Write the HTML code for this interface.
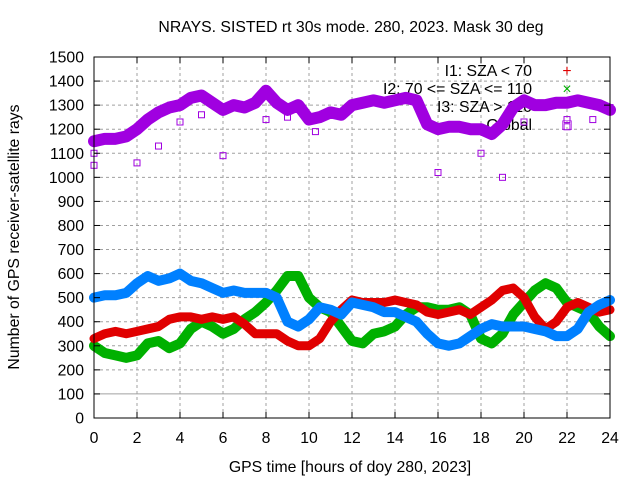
<!DOCTYPE html>
<html><head><meta charset="utf-8"><style>
body{margin:0;background:#fff}
svg text{font-family:"Liberation Sans",sans-serif;font-size:15.8px;fill:#000}
</style></head><body>
<svg id="c" width="640" height="480">
<text x="351" y="32" text-anchor="middle">NRAYS. SISTED rt 30s mode. 280, 2023. Mask 30 deg</text>
<text x="350" y="472" text-anchor="middle">GPS time [hours of doy 280, 2023]</text>
<text transform="translate(19,237) rotate(-90)" text-anchor="middle">Number of GPS receiver-satellite rays</text>
<g id="grid"></g><g id="legend"></g><g id="series"></g><g id="axes"></g>
</svg>
<script>
const hours=[0,0.5,1,1.5,2,2.5,3,3.5,4,4.5,5,5.5,6,6.5,7,7.5,8,8.5,9,9.5,10,10.5,11,11.5,12,12.5,13,13.5,14,14.5,15,15.5,16,16.5,17,17.5,18,18.5,19,19.5,20,20.5,21,21.5,22,22.5,23,23.5,24];
const globalVals=[1150,1160,1160,1170,1200,1240,1270,1290,1300,1330,1340,1310,1280,1300,1290,1310,1360,1310,1280,1300,1240,1250,1270,1260,1300,1310,1320,1310,1320,1330,1320,1220,1200,1210,1210,1200,1200,1180,1220,1290,1320,1300,1300,1310,1310,1320,1310,1300,1280];
const i3Vals=[500,510,510,520,560,590,570,580,600,570,560,540,520,530,520,520,520,500,400,380,410,460,450,430,480,470,460,440,440,420,400,350,310,300,310,340,370,390,380,380,380,370,360,340,340,370,440,470,490];
const i1Vals=[330,350,360,350,360,370,380,410,420,420,410,420,410,420,390,350,350,350,320,300,300,330,400,450,490,480,480,480,490,480,470,440,430,440,450,430,460,490,530,540,500,420,370,400,460,480,460,440,450];
const i2Vals=[300,270,260,250,260,310,320,290,310,370,400,380,350,370,410,440,480,530,590,590,500,460,440,380,320,310,350,360,380,430,460,460,450,450,460,430,330,310,350,430,480,530,560,540,480,460,440,380,340];
const yTicks=[0,100,200,300,400,500,600,700,800,900,1000,1100,1200,1300,1400,1500];
const xTicks=[0,2,4,6,8,10,12,14,16,18,20,22,24];
const globalOut=[[0,1050],[0,1100],[2,1060],[3,1130],[4,1230],[5,1260],[6,1090],[8,1240],[9,1250],[10.3,1190],[16,1020],[18,1100],[19,1000],[20,1230],[22,1210],[22,1240],[23.2,1240],[24,1290]];
const NS="http://www.w3.org/2000/svg";
const X0=94,X1=610,Y0=418,Y1=57;
const sx=h=>X0+(X1-X0)*h/24, sy=v=>Y0-(Y0-Y1)*v/1500;
function mk(t,a,p){const e=document.createElementNS(NS,t);for(const k in a)e.setAttribute(k,a[k]);(p||document.getElementById('c')).appendChild(e);return e;}
const grid=document.getElementById('grid'),axes=document.getElementById('axes'),ser=document.getElementById('series'),leg=document.getElementById('legend');
yTicks.forEach(v=>{const y=sy(v);
 const g=mk('line',{x1:X0,x2:X1,y1:y,y2:y,stroke:'#a0a0a0','stroke-width':1,'stroke-dasharray':v==100?'':'3,3'},grid);
 
 mk('line',{x1:X0,x2:X0+6,y1:y,y2:y,stroke:'#000'},axes);mk('line',{x1:X1,x2:X1-6,y1:y,y2:y,stroke:'#000'},axes);
 const t=mk('text',{x:84,y:y+5.5,'text-anchor':'end'},axes);t.textContent=v;
 });
xTicks.forEach(h=>{const x=sx(h);
 const g=mk('line',{x1:x,x2:x,y1:Y0,y2:Y1,stroke:'#a0a0a0','stroke-dasharray':'3,3'},grid);
 
 mk('line',{x1:x,x2:x,y1:Y0,y2:Y0-6,stroke:'#000'},axes);mk('line',{x1:x,x2:x,y1:Y1,y2:Y1+6,stroke:'#000'},axes);
 const t=mk('text',{x:x,y:443,'text-anchor':'middle'},axes);t.textContent=h;
 });
const fr=mk('rect',{x:X0,y:Y1,width:X1-X0,height:Y0-Y1,fill:'none',stroke:'#000'},axes);

const legItems=[['I1: SZA < 70','#e00000','+'],['I2: 70 <= SZA <= 110','#00b000','×'],['I3: SZA > 110','#0080ff','*'],['Global','#a000e0','□']];
legItems.forEach((l,i)=>{const y=76+i*18;
 const t=mk('text',{x:532,y:y,'text-anchor':'end'},leg);t.textContent=l[0];
 
 const m=mk('text',{x:567,y:y,'text-anchor':'middle',style:'fill:'+l[1]},leg);m.textContent=l[2];
 });
function band(vals,color,w,name){
 const pts=hours.map((h,i)=>sx(h)+','+sy(vals[i])).join(' ');
 const p=mk('polyline',{points:pts,fill:'none',stroke:color,'stroke-width':w,'stroke-linejoin':'round','stroke-linecap':'round'},ser);
 }
band(i2Vals,'#00b000',10,'series-i2');
band(i1Vals,'#e00000',9,'series-i1');
band(i3Vals,'#0080ff',10,'series-i3');
band(globalVals,'#a000e0',12,'series-global');
globalOut.forEach(o=>{const r=mk('rect',{x:sx(o[0])-3,y:sy(o[1])-3,width:6,height:6,fill:'none',stroke:'#a000e0'},ser);
 });
</script>
</body></html>
